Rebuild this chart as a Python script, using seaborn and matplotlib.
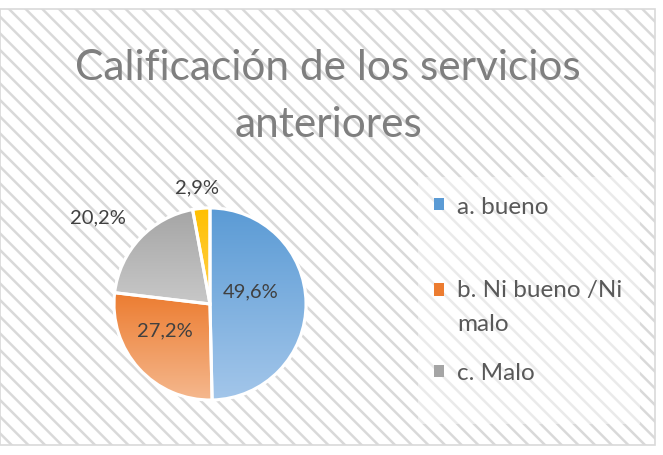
import numpy as np
import matplotlib
matplotlib.use("Agg")
import matplotlib.pyplot as plt
import seaborn as sns
from matplotlib.patches import Rectangle, Patch, Wedge
from matplotlib.colors import to_rgb

# ---- data ----
categories = ["a. bueno", "b. Ni bueno /Ni\nmalo", "c. Malo", "d. Otro"]
values = [49.6, 27.2, 20.2, 2.9]
legend_labels = ["a. bueno", "\nb. Ni bueno /Ni\nmalo", "c. Malo"]
title = "Calificación de los servicios\nanteriores"

# ---- style ----
sns.set_theme(style="white")
plt.rcParams["font.family"] = ["Lato", "DejaVu Sans"]
plt.rcParams["hatch.linewidth"] = 1.8
plt.rcParams["hatch.color"] = "#EAEAEA"

top_colors = ["#5B9BD5", "#EC7C30", "#A5A5A5", "#FFC000"]
bot_colors = ["#A3C6EA", "#F5B88E", "#C8C8C8", "#FFD050"]

W, H = 663, 456
fig = plt.figure(figsize=(W / 100, H / 100), dpi=100)
fig.patch.set_facecolor("white")

# chart area with hatched background
bg = Rectangle((0, 1 - 446 / H), 655 / W, (446 - 10) / H, transform=fig.transFigure,
               facecolor="white", edgecolor="#D9D9D9", hatch="\\\\", linewidth=1.2, zorder=0)
fig.patches.append(bg)
# lighter legend area
leg_bg = Rectangle((418 / W, 1 - 425 / H), (640 - 418) / W, (425 - 178) / H,
                   transform=fig.transFigure, facecolor="white", alpha=0.45,
                   edgecolor="none", zorder=0.5)
fig.patches.append(leg_bg)

# pie axes: center (210, 305) px, radius 96 px
cx, cy, R = 210, 305, 96
half = 100
ax = fig.add_axes([(cx - half) / W, (H - cy - half) / H, 2 * half / W, 2 * half / H])
ax.set_zorder(2)
ax.set_facecolor("none")
lim = half / R

wedges, _ = ax.pie(values, startangle=90, counterclock=False,
                   colors=top_colors,
                   wedgeprops=dict(edgecolor="white", linewidth=2))

# gradient fill per wedge (darker on top, lighter at bottom)
for w, c1, c2 in zip(wedges, top_colors, bot_colors):
    verts = w.get_patch_transform().transform(w.get_path().vertices)
    ymin, ymax = verts[:, 1].min(), verts[:, 1].max()
    xmin, xmax = verts[:, 0].min(), verts[:, 0].max()
    t = np.linspace(0, 1, 256)[:, None]
    a, b = np.array(to_rgb(c1)), np.array(to_rgb(c2))
    img = (a[None, :] * (1 - t) + b[None, :] * t)[:, None, :]
    im = ax.imshow(img, extent=[xmin, xmax, ymin, ymax], origin="upper",
                   aspect="auto", zorder=w.get_zorder() + 0.1, interpolation="bilinear")
    im.set_clip_path(w)
for w in wedges:
    ax.add_patch(Wedge(w.center, w.r, w.theta1, w.theta2, facecolor="none",
                       edgecolor="white", linewidth=2.2, zorder=5))

# data labels (Excel "best fit" positions, in data units of the pie)
label_pos = [(0.42, 0.135), (-0.47, -0.27), (-1.17, 0.91), (-0.14, 1.22)]
for v, (x, y) in zip(values, label_pos):
    ax.text(x, y, f"{v:.1f}%".replace(".", ","), ha="center", va="center",
            fontsize=14.5, color="#404040", zorder=6)

ax.set_xlim(-lim, lim)
ax.set_ylim(-lim, lim)
ax.set_aspect("equal")
ax.axis("off")

# title
fig.text(328 / W, 1 - 96.5 / H, title, ha="center", va="center", fontsize=30.5,
         color="#7F7F7F", linespacing=1.59)

# legend
handles = [Patch(facecolor=c, edgecolor="none") for c in top_colors[:3]]
leg = fig.legend(handles, legend_labels, loc="upper left",
                 bbox_to_anchor=(412 / W, 1 - 175 / H), frameon=False,
                 fontsize=17.5, handlelength=0.4, handleheight=0.4,
                 handletextpad=0.55, labelspacing=1.16)
for txt in leg.get_texts():
    txt.set_color("#595959")
    txt.set_linespacing(1.77)

fig.savefig("out.png", dpi=100, facecolor="white")
